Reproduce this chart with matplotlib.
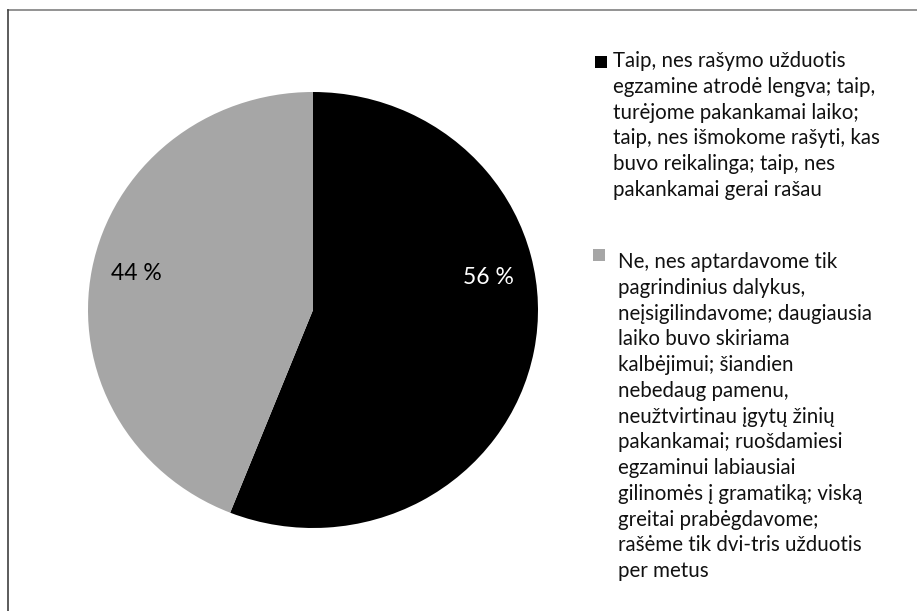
import matplotlib
matplotlib.use("Agg")
import matplotlib.pyplot as plt
from matplotlib.patches import Rectangle
from matplotlib.lines import Line2D

# ---- data ----
categories = [
    "Taip, nes rašymo užduotis\negzamine atrodė lengva; taip,\nturėjome pakankamai laiko;\ntaip, nes išmokome rašyti, kas\nbuvo reikalinga; taip, nes\npakankamai gerai rašau",
    "Ne, nes aptardavome tik\npagrindinius dalykus,\nneįsigilindavome; daugiausia\nlaiko buvo skiriama\nkalbėjimui; šiandien\nnebedaug pamenu,\nneužtvirtinau įgytų žinių\npakankamai; ruošdamiesi\negzaminui labiausiai\ngilinomės į gramatiką; viską\ngreitai prabėgdavome;\nrašėme tik dvi-tris užduotis\nper metus",
]
values = [56, 44]
colors = ["#000000", "#A6A6A6"]
label_colors = ["white", "black"]

FONT = ["Lato", "DejaVu Sans"]
plt.rcParams["font.family"] = FONT

W, H = 917, 611
fig = plt.figure(figsize=(W / 100, H / 100), dpi=100)

def fx(px):
    return px / W

def fy(py):
    return 1 - py / H

# pie axes (pixel box)
left, right, top, bottom = 88, 538, 92, 528
ax = fig.add_axes([fx(left), fy(bottom), fx(right) - fx(left), (bottom - top) / H])
wedges, _ = ax.pie(values, colors=colors, startangle=90, counterclock=False,
                   radius=1.0, wedgeprops=dict(linewidth=0))
ax.set_aspect("auto")
ax.set_xlim(-1, 1)
ax.set_ylim(-1, 1)
ax.axis("off")

# percentage labels (positions as in the original Excel best-fit layout)
label_pos = [(488, 278), (136, 274)]
for v, (px, py), c in zip(values, label_pos, label_colors):
    fig.text(fx(px), fy(py), f"{v} %", color=c, fontsize=16.5,
             ha="center", va="center")

# chart border (top and left only visible)
fig.add_artist(Line2D([fx(8), 1], [fy(9.5), fy(9.5)], color="#808080", lw=1.2))
fig.add_artist(Line2D([fx(8), fx(8)], [fy(9.5), 0], color="#404040", lw=1.2))

# legend drawn manually
entries = [
    dict(sq=(595, 56), tx=(613, 51)),
    dict(sq=(593, 249), tx=(618, 252)),
]
sq = 12
for lab, col, e in zip(categories, colors, entries):
    sx, sy = e["sq"]
    fig.add_artist(Rectangle((fx(sx), fy(sy + sq)), sq / W, sq / H,
                             transform=fig.transFigure, facecolor=col,
                             edgecolor="none"))
    tx, ty = e["tx"]
    fig.text(fx(tx), fy(ty), lab, fontsize=14.8, color="#111111",
             ha="left", va="top", linespacing=1.36)

fig.savefig("out.png", dpi=100, facecolor="white")
